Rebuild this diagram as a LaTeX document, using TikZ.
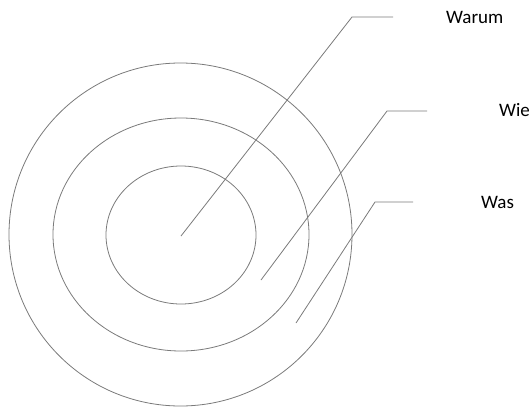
\documentclass[tikz,border=0pt]{standalone}
\usepackage{fontspec}
\setmainfont{Carlito}
\usepackage{xcolor}
\usepackage{tikz}
\usetikzlibrary{positioning}
\definecolor{ringgray}{HTML}{7A7A7A}

\begin{document}
\begin{tikzpicture}[x=1pt,y=-1pt,
    ring/.style={draw=ringgray, line width=0.8pt},
    leader/.style={draw=ringgray, line width=0.8pt},
    tag/.style={font=\fontsize{19}{22}\selectfont, text=black, inner sep=0pt, anchor=west}]
  \useasboundingbox (0,0) rectangle (532,407);
  % rings
  \draw[ring] (180.5,234.5) ellipse [x radius=171.5, y radius=171.5];
  \draw[ring] (181,234.5) ellipse [x radius=128, y radius=116.5];
  \draw[ring] (181,235) ellipse [x radius=75, y radius=69];
  % leader points
  \coordinate (warumIn) at (181,236);
  \coordinate (warumKnee) at (352,17);
  \coordinate (warumEnd) at (393,17);
  \coordinate (wieIn) at (261,280);
  \coordinate (wieKnee) at (387,111);
  \coordinate (wieEnd) at (427,111);
  \coordinate (wasIn) at (296,323);
  \coordinate (wasKnee) at (375,202);
  \coordinate (wasEnd) at (413,202);
  % labels
  \node[tag] (warum) at (446,17) {Warum};
  \node[tag] (wie) at (499,110) {Wie};
  \node[tag] (was) at (481,202) {Was};
  % leaders
  \draw[leader] (warumIn) -- (warumKnee) -- (warumEnd);
  \draw[leader] (wieIn) -- (wieKnee) -- (wieEnd);
  \draw[leader] (wasIn) -- (wasKnee) -- (wasEnd);
\end{tikzpicture}
\end{document}
